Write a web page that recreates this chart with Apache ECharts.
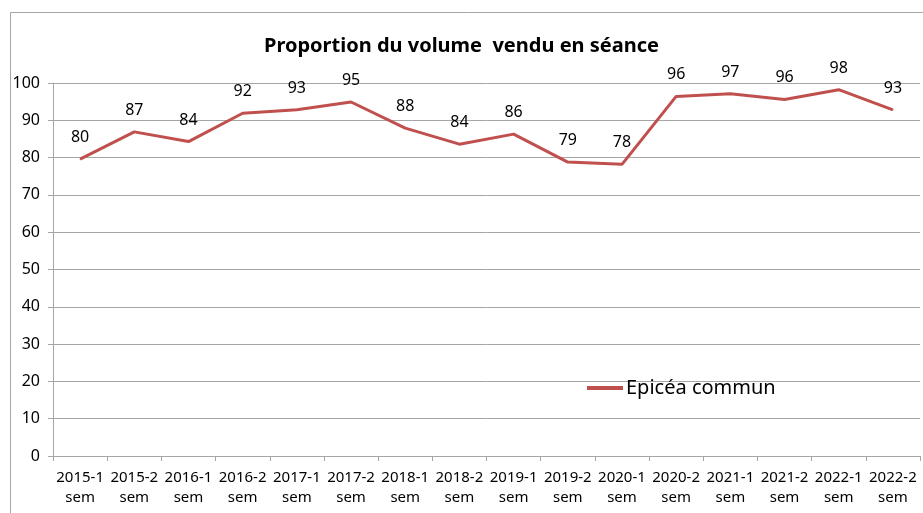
<!DOCTYPE html>
<html lang="fr">
<head>
    <meta charset="UTF-8">
    <script src="https://cdn.jsdelivr.net/npm/echarts@6/dist/echarts.min.js"></script>
    <title>Proportion du volume vendu en séance</title>
    <style>
        body { margin: 0; background: #fff; }
        #chart { width: 923px; height: 513px; }
    </style>
</head>
<body>
    <div id="chart"></div>
    <script>
        // données
        var categories = ['2015-1\nsem', '2015-2\nsem', '2016-1\nsem', '2016-2\nsem', '2017-1\nsem', '2017-2\nsem',
            '2018-1\nsem', '2018-2\nsem', '2019-1\nsem', '2019-2\nsem', '2020-1\nsem', '2020-2\nsem',
            '2021-1\nsem', '2021-2\nsem', '2022-1\nsem', '2022-2\nsem'];
        var epicea = [79.6, 86.9, 84.3, 91.9, 92.8, 94.9, 87.9, 83.6, 86.3, 78.8, 78.2, 96.4, 97.1, 95.6, 98.2, 92.8];
        var yTicks = [0, 100, 10];

        var myChart = echarts.init(document.getElementById('chart'));
        var font = 'Noto Sans';

        var option = {
            backgroundColor: '#fff',
            animation: false,
            title: {
                text: 'Proportion du volume  vendu en séance',
                left: 'center',
                top: 31,
                textStyle: { fontFamily: font, fontSize: 20, fontWeight: 'bold', color: '#000' }
            },
            legend: {
                left: 582,
                top: 373,
                itemWidth: 36,
                itemHeight: 4,
                itemGap: 4,
                icon: 'rect',
                textStyle: { fontFamily: font, fontSize: 20, color: '#000', padding: [0, 0, 0, -2] },
                data: ['Epicéa commun']
            },
            graphic: [{
                type: 'rect',
                shape: { x: 10.5, y: 12.5, width: 930, height: 520 },
                style: { fill: 'none', stroke: '#a6a6a6', lineWidth: 1 },
                silent: true
            }],
            grid: { left: 53, right: 3, top: 83, bottom: 57 },
            xAxis: {
                type: 'category',
                data: categories,
                boundaryGap: true,
                axisLine: { lineStyle: { color: '#a6a6a6' } },
                axisTick: { show: true, length: 5, lineStyle: { color: '#a6a6a6' } },
                axisLabel: { fontFamily: font, fontSize: 15, color: '#000', lineHeight: 20, margin: 12, interval: 0 }
            },
            yAxis: {
                type: 'value',
                min: yTicks[0],
                max: yTicks[1],
                interval: yTicks[2],
                axisLine: { show: true, lineStyle: { color: '#a6a6a6' } },
                axisTick: { show: true, length: 5, lineStyle: { color: '#a6a6a6' } },
                axisLabel: { fontFamily: font, fontSize: 16, color: '#000', margin: 13 },
                splitLine: { lineStyle: { color: '#a6a6a6' } }
            },
            series: [{
                name: 'Epicéa commun',
                type: 'line',
                data: epicea,
                symbol: 'circle',
                symbolSize: 1,
                showSymbol: true,
                lineStyle: { color: '#c0504d', width: 3 },
                itemStyle: { color: '#c0504d' },
                label: {
                    show: true,
                    position: 'top',
                    distance: 13,
                    fontFamily: font,
                    fontSize: 16,
                    color: '#000',
                    formatter: function (p) { return Math.round(p.value); }
                }
            }]
        };
        myChart.setOption(option);
    </script>
</body>
</html>
